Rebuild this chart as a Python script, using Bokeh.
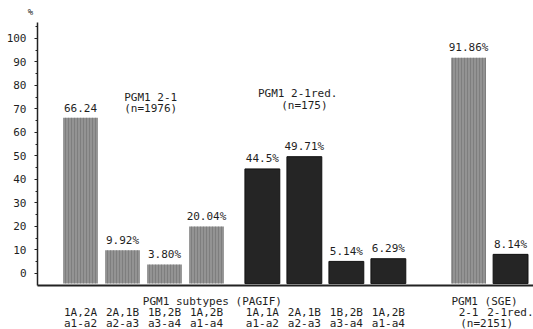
from bokeh.plotting import figure
from bokeh.models import Range1d, FixedTicker, LabelSet, Label, ColumnDataSource
from bokeh.core.properties import value
from bokeh.embed import file_html
from bokeh.resources import INLINE

# ---- data ----
kinds = ["2-1"] * 4 + ["2-1red."] * 4 + ["2-1", "2-1red."]
values = [66.24, 9.92, 3.80, 20.04, 44.5, 49.71, 5.14, 6.29, 91.86, 8.14]
value_labels = ["66.24", "9.92%", "3.80%", "20.04%", "44.5%", "49.71%",
                "5.14%", "6.29%", "91.86%", "8.14%"]
tick_line1 = ["1A,2A", "2A,1B", "1B,2B", "1A,2B", "1A,1A", "2A,1B", "1B,2B",
              "1A,2B", "2-1", "2-1red."]
tick_line2 = ["a1-a2", "a2-a3", "a3-a4", "a1-a4", "a1-a2", "a2-a3", "a3-a4",
              "a1-a4", "", ""]
y_ticks = [0, 10, 20, 30, 40, 50, 60, 70, 80, 90, 100]
title_2_1 = ["PGM1 2-1", "(n=1976)"]
title_2_1red = ["PGM1 2-1red.", "(n=175)"]
caption_pagif = "PGM1 subtypes (PAGIF)"
caption_sge = ["PGM1 (SGE)", "(n=2151)"]

# ---- layout ----
group_of = [0] * 4 + [1] * 4 + [2] * 2
group_shift = [0.0, 0.33, 1.24]
pos = [i + group_shift[g] for i, g in enumerate(group_of)]

FONT = "DejaVu Sans Mono"
FS = "11px"
TXT = "#1e1e1e"
X_AXIS_AT = -1.024      # where the y axis sits (x data)
X_END = 10.786
Y_BASE = -5.1           # where the x axis sits (y data)
Y_TOP = 106.8

p = figure(width=533, height=329, output_backend="svg", toolbar_location=None,
           x_range=Range1d(-1.905, X_END), y_range=Range1d(-23.83, 116.17),
           min_border=0)
p.outline_line_color = None
p.grid.visible = False
p.background_fill_color = "white"
p.border_fill_color = "white"

gray_idx = [i for i, k in enumerate(kinds) if k == "2-1"]
black_idx = [i for i, k in enumerate(kinds) if k == "2-1red."]
base = Y_BASE + 0.8

p.vbar(x=[pos[i] for i in gray_idx], top=[values[i] for i in gray_idx],
       bottom=base, width=0.83, fill_color="#939393", line_color=None,
       hatch_pattern="vertical_line", hatch_color="#6e6e6e", hatch_scale=3,
       hatch_weight=1, hatch_alpha=0.55)
p.vbar(x=[pos[i] for i in black_idx], top=[values[i] for i in black_idx],
       bottom=base, width=0.83, fill_color="#252525", line_color="#111111",
       line_width=1)

src = ColumnDataSource(dict(x=pos, y=values, t=value_labels, l2=tick_line2,
                            y2=[-21.3] * len(pos)))
p.add_layout(LabelSet(x="x", y="y", text="t", source=src, text_align="center",
                      text_baseline="middle", y_offset=10,
                      text_font=value(FONT), text_font_size=value(FS),
                      text_color=TXT))
p.add_layout(LabelSet(x="x", y="y2", text="l2", source=src,
                      text_align="center", text_baseline="middle",
                      text_font=value(FONT), text_font_size=value(FS),
                      text_color=TXT))

# y axis
ya = p.yaxis[0]
ya.fixed_location = X_AXIS_AT
ya.bounds = (Y_BASE, Y_TOP)
ya.ticker = FixedTicker(ticks=y_ticks, minor_ticks=list(range(5, 106, 10)))
ya.axis_line_width = 1.5
ya.axis_line_color = "#222222"
ya.major_tick_out = 3
ya.major_tick_in = 0
ya.minor_tick_out = 2
ya.minor_tick_in = 0
ya.major_tick_line_color = "#222222"
ya.minor_tick_line_color = "#222222"
ya.major_label_standoff = 8
ya.major_label_text_font = FONT
ya.major_label_text_font_size = FS
ya.major_label_text_color = TXT

# x axis
xa = p.xaxis[0]
xa.fixed_location = Y_BASE
xa.bounds = (X_AXIS_AT, X_END)
xa.ticker = FixedTicker(ticks=pos)
xa.major_label_overrides = {pv: t for pv, t in zip(pos, tick_line1)}
xa.axis_line_width = 2.2
xa.axis_line_color = "#222222"
xa.major_tick_out = 0
xa.major_tick_in = 0
xa.minor_tick_out = 0
xa.minor_tick_in = 0
xa.major_label_standoff = 21
xa.major_label_text_font = FONT
xa.major_label_text_font_size = FS
xa.major_label_text_color = TXT


def lab(x, y, text, size=FS):
    p.add_layout(Label(x=x, y=y, text=text, text_align="center",
                       text_baseline="middle", text_font=FONT,
                       text_font_size=size, text_color=TXT))


lab(1.67, 74.9, title_2_1[0])
lab(1.67, 70.2, title_2_1[1])
lab(5.17, 76.6, title_2_1red[0])
lab(5.33, 71.5, title_2_1red[1])
lab(3.14, -11.9, caption_pagif)
lab(9.62, -11.9, caption_sge[0])
lab(9.67, -21.3, caption_sge[1])
lab(-1.19, 111.1, "%", "9px")

open("out.html", "w").write(file_html(p, INLINE))
